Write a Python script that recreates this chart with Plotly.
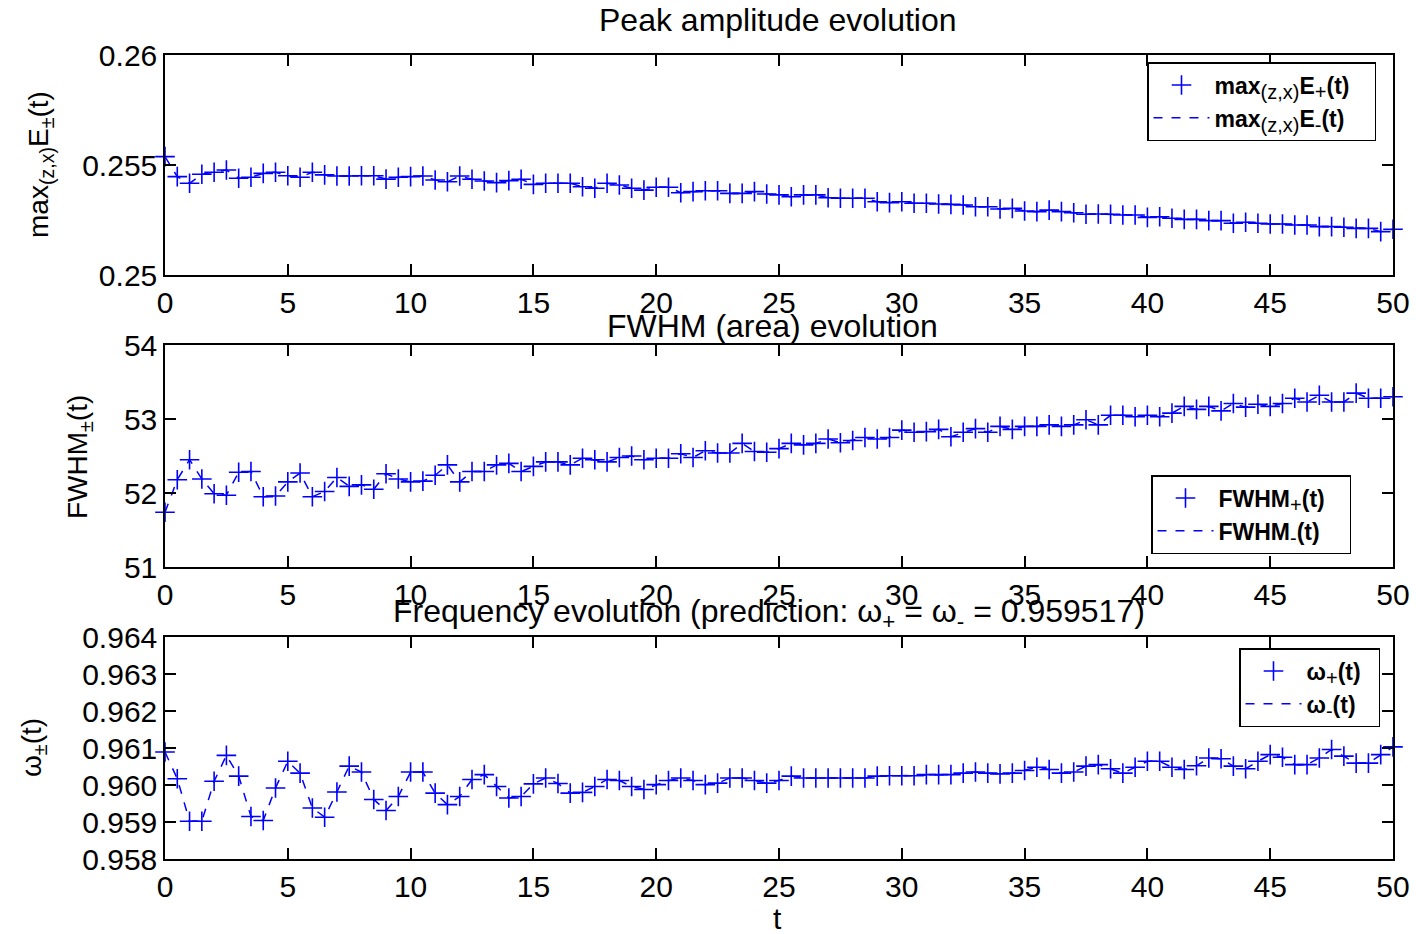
import plotly.graph_objects as go

t = [0.0, 0.5, 1.0, 1.5, 2.0, 2.5, 3.0, 3.5, 4.0, 4.5, 5.0, 5.5, 6.0, 6.5, 7.0, 7.5, 8.0, 8.5, 9.0, 9.5,
     10.0, 10.5, 11.0, 11.5, 12.0, 12.5, 13.0, 13.5, 14.0, 14.5, 15.0, 15.5, 16.0, 16.5, 17.0, 17.5, 18.0, 18.5, 19.0, 19.5,
     20.0, 20.5, 21.0, 21.5, 22.0, 22.5, 23.0, 23.5, 24.0, 24.5, 25.0, 25.5, 26.0, 26.5, 27.0, 27.5, 28.0, 28.5, 29.0, 29.5,
     30.0, 30.5, 31.0, 31.5, 32.0, 32.5, 33.0, 33.5, 34.0, 34.5, 35.0, 35.5, 36.0, 36.5, 37.0, 37.5, 38.0, 38.5, 39.0, 39.5,
     40.0, 40.5, 41.0, 41.5, 42.0, 42.5, 43.0, 43.5, 44.0, 44.5, 45.0, 45.5, 46.0, 46.5, 47.0, 47.5, 48.0, 48.5, 49.0, 49.5,
     50.0]

amp_plus = [0.25538, 0.25447, 0.25417, 0.25458, 0.25467, 0.25477, 0.25440, 0.25444, 0.25462, 0.25467,
            0.25451, 0.25444, 0.25467, 0.25455, 0.25450, 0.25450, 0.25451, 0.25451, 0.25436, 0.25444,
            0.25447, 0.25450, 0.25432, 0.25424, 0.25450, 0.25435, 0.25427, 0.25420, 0.25429, 0.25435,
            0.25412, 0.25417, 0.25417, 0.25417,
            0.25401, 0.25394, 0.25417, 0.25409, 0.25394, 0.25386, 0.25399, 0.25399, 0.25374, 0.25379,
            0.25383, 0.25383, 0.25371, 0.25371, 0.25379, 0.25368, 0.25364, 0.25356, 0.25364, 0.25364,
            0.25351, 0.25349, 0.25349, 0.25349, 0.25333, 0.25329, 0.25333, 0.25326, 0.25326, 0.25323,
            0.25321, 0.25318, 0.25310, 0.25310,
            0.25300, 0.25303, 0.25291, 0.25288, 0.25295, 0.25288, 0.25283, 0.25276, 0.25277, 0.25276,
            0.25273, 0.25273, 0.25262, 0.25265, 0.25258, 0.25253, 0.25253, 0.25247, 0.25247, 0.25235,
            0.25240, 0.25235, 0.25232, 0.25232, 0.25227, 0.25227, 0.25220, 0.25220, 0.25217, 0.25212,
            0.25212, 0.25197, 0.25208]
amp_minus = list(amp_plus)

fwhm_plus = [51.74, 52.18, 52.45, 52.19, 51.99, 51.97, 52.28, 52.29, 51.95, 51.96,
             52.15, 52.27, 51.95, 52.02, 52.21, 52.09, 52.11, 52.05, 52.26, 52.19,
             52.15, 52.16, 52.24, 52.38, 52.15, 52.29, 52.29, 52.38, 52.40, 52.29,
             52.36, 52.42, 52.42, 52.38,
             52.47, 52.45, 52.42, 52.48, 52.50, 52.45, 52.47, 52.47, 52.53, 52.48,
             52.57, 52.54, 52.54, 52.67, 52.56, 52.55, 52.60, 52.67, 52.65, 52.67,
             52.73, 52.68, 52.71, 52.75, 52.73, 52.75, 52.85, 52.82, 52.83, 52.86,
             52.76, 52.82, 52.87, 52.82,
             52.90, 52.86, 52.90, 52.90, 52.92, 52.90, 52.92, 52.99, 52.92, 53.05,
             53.05, 53.03, 53.05, 53.03, 53.08, 53.17, 53.13, 53.17, 53.11, 53.21,
             53.16, 53.20, 53.17, 53.21, 53.28, 53.23, 53.32, 53.23, 53.23, 53.35,
             53.28, 53.28, 53.30]
fwhm_minus = list(fwhm_plus)

omega_plus = [0.96089, 0.96017, 0.95902, 0.95902, 0.96010, 0.96080, 0.96024, 0.95915, 0.95904, 0.95992,
              0.96064, 0.96032, 0.95938, 0.95913, 0.95981, 0.96051, 0.96035, 0.95961, 0.95931, 0.95969,
              0.96035, 0.96035, 0.95978, 0.95947, 0.95969, 0.96015, 0.96028, 0.95996, 0.95965, 0.95969,
              0.96003, 0.96019, 0.96004, 0.95978,
              0.95980, 0.95996, 0.96015, 0.96012, 0.95996, 0.95988, 0.96001, 0.96012, 0.96019, 0.96012,
              0.96001, 0.96005, 0.96019, 0.96019, 0.96012, 0.96005, 0.96012, 0.96024, 0.96019, 0.96019,
              0.96019, 0.96019, 0.96019, 0.96019, 0.96024, 0.96025, 0.96025, 0.96025, 0.96028, 0.96028,
              0.96028, 0.96032, 0.96035, 0.96032,
              0.96030, 0.96032, 0.96039, 0.96048, 0.96042, 0.96032, 0.96035, 0.96051, 0.96055, 0.96044,
              0.96032, 0.96048, 0.96064, 0.96064, 0.96048, 0.96042, 0.96052, 0.96073, 0.96071, 0.96051,
              0.96044, 0.96064, 0.96082, 0.96075, 0.96055, 0.96055, 0.96073, 0.96096, 0.96078, 0.96059,
              0.96059, 0.96082, 0.96103]
omega_minus = list(omega_plus)

x_ticks = [0, 5, 10, 15, 20, 25, 30, 35, 40, 45, 50]
amp_ticks = [0.25, 0.255, 0.26]
amp_ticktext = ["0.25", "0.255", "0.26"]
fwhm_ticks = [51, 52, 53, 54]
omega_ticks = [0.958, 0.959, 0.960, 0.961, 0.962, 0.963, 0.964]
omega_ticktext = ["0.958", "0.959", "0.960", "0.961", "0.962", "0.963", "0.964"]

FONT = "Liberation Sans, Arial, Helvetica, sans-serif"
BLUE = "rgb(0,0,255)"
W, H = 1416, 934

def sub(s):
    return f'<sub><span style="font-size:20px;font-weight:normal">{s}</span></sub>'

PAD = "&nbsp;&nbsp;&nbsp;"
PAD3 = "&nbsp;&nbsp;"
fig = go.Figure()

panels = [
    (amp_plus, amp_minus, "max" + sub("(z,x)") + "E" + sub("+") + "(t)" + PAD,
     "max" + sub("(z,x)") + "E" + sub("-") + "(t)" + PAD, "legend"),
    (fwhm_plus, fwhm_minus, "FWHM" + sub("+") + "(t)" + PAD, "FWHM" + sub("-") + "(t)" + PAD, "legend2"),
    (omega_plus, omega_minus, "ω" + sub("+") + "(t)" + PAD3, "ω" + sub("-") + "(t)" + PAD3, "legend3"),
]
for i, (yp, ym, np_, nm, lg) in enumerate(panels):
    xa = "x" if i == 0 else f"x{i+1}"
    ya = "y" if i == 0 else f"y{i+1}"
    fig.add_trace(go.Scatter(x=t, y=yp, mode="markers", name=np_, legend=lg,
                             xaxis=xa, yaxis=ya, cliponaxis=False,
                             marker=dict(symbol="cross-thin", size=14, color=BLUE,
                                         line=dict(color=BLUE, width=1.6))))
    fig.add_trace(go.Scatter(x=t, y=ym, mode="lines", name=nm, legend=lg,
                             xaxis=xa, yaxis=ya, cliponaxis=False,
                             line=dict(color=BLUE, width=1.5, dash="dash")))

def ydom(top, bottom):
    return [1 - bottom / H, 1 - top / H]

xdom = [165 / W, 1393 / W]
axis_common = dict(showline=True, linecolor="black", linewidth=1.5, mirror="allticks",
                   ticks="inside", ticklen=11, tickwidth=1.5, tickcolor="black",
                   showgrid=False, zeroline=False, automargin=False,
                   tickfont=dict(family=FONT, size=30, color="black"))

fig.update_layout(
    width=W, height=H, margin=dict(l=0, r=0, t=0, b=0, pad=0, autoexpand=False),
    paper_bgcolor="white", plot_bgcolor="white", showlegend=True,
    xaxis=dict(domain=xdom, anchor="y", range=[0, 50], tickvals=x_ticks, **axis_common),
    yaxis=dict(domain=ydom(55, 275), anchor="x", range=[0.25, 0.26], tickvals=amp_ticks,
               ticktext=amp_ticktext, **axis_common),
    xaxis2=dict(domain=xdom, anchor="y2", range=[0, 50], tickvals=x_ticks, **axis_common),
    yaxis2=dict(domain=ydom(345, 567), anchor="x2", range=[51, 54], tickvals=fwhm_ticks, **axis_common),
    xaxis3=dict(domain=xdom, anchor="y3", range=[0, 50], tickvals=x_ticks, **axis_common),
    yaxis3=dict(domain=ydom(637, 859), anchor="x3", range=[0.958, 0.964], tickvals=omega_ticks,
                ticktext=omega_ticktext, **axis_common),
)

leg_common = dict(bgcolor="white", bordercolor="black", borderwidth=1.5,
                  font=dict(family=FONT, size=23, color="black", weight="bold"),
                  xanchor="left", yanchor="top", itemwidth=56)
fig.update_layout(
    legend=dict(x=1147 / W, y=1 - 62 / H, **leg_common),
    legend2=dict(x=1151 / W, y=1 - 475 / H, **leg_common),
    legend3=dict(x=1239 / W, y=1 - 648 / H, **leg_common),
)

def ann(text, x, y, size, angle=0):
    fig.add_annotation(text=text, x=x / W, y=1 - y / H, xref="paper", yref="paper",
                       showarrow=False, textangle=angle, xanchor="center", yanchor="middle",
                       font=dict(family=FONT, size=size, color="black"))

ann("Peak amplitude evolution", 778, 20, 32)
ann("FWHM (area) evolution", 773, 326, 32)
ann("Frequency evolution (prediction: ω<sub>+</sub> = ω<sub>-</sub> = 0.959517)", 769, 613, 32)
ann("t", 777, 918, 30)
ann("max<sub>(z,x)</sub>E<sub>±</sub>(t)", 40, 165, 28, -90)
ann("FWHM<sub>±</sub>(t)", 80, 457, 28, -90)
ann("ω<sub>±</sub>(t)", 33, 748, 28, -90)

fig.write_html("out.html")
